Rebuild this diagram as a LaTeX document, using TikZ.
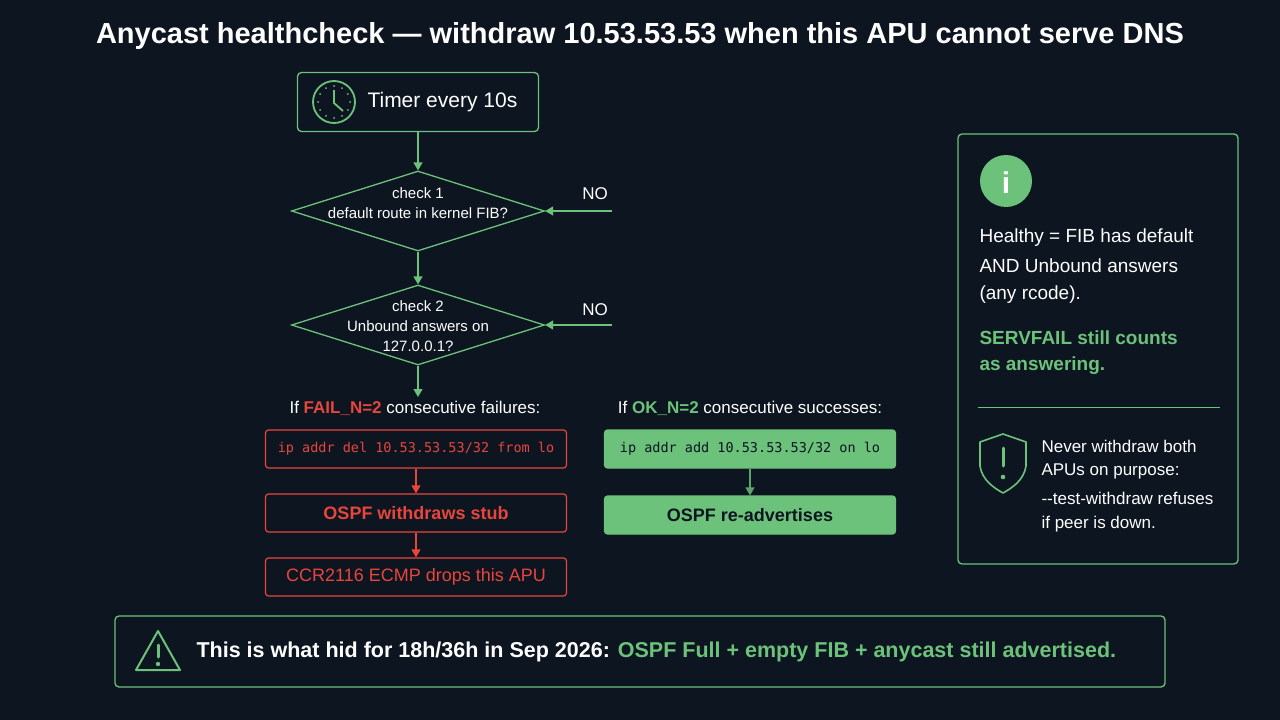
\documentclass[tikz,border=0pt]{standalone}
\usepackage{fontspec}
\setmainfont{Liberation Sans}
\setmonofont{DejaVu Sans Mono}
\usetikzlibrary{arrows.meta}
\usetikzlibrary{calc}
\usetikzlibrary{shapes.geometric}
\definecolor{bgc}{HTML}{0D1520}
\definecolor{grn}{HTML}{6CC27A}
\definecolor{red}{HTML}{E8453C}
\definecolor{ink}{HTML}{0D1520}
\tikzset{
  box/.style={draw=grn,line width=1.3pt,rounded corners=4pt,text=white},
  chk/.style={diamond,draw=grn,line width=1.3pt,aspect=3.15,minimum width=253pt,minimum height=80pt,inner sep=0pt},
  chktext/.style={text=white,align=center,font=\fontsize{15}{20}\selectfont},
  failbox/.style={draw=red,line width=1.2pt,rounded corners=3pt,minimum width=301pt,minimum height=38pt,text=red},
  okbox/.style={draw=grn,fill=grn,line width=1.2pt,rounded corners=3pt,minimum width=291pt,minimum height=38pt,text=ink},
  flow/.style={-{Triangle[length=8pt,width=9pt]},line width=1.3pt,draw=grn},
  txt/.style={text=white,anchor=west,font=\fontsize{19}{22}\selectfont}
}
\begin{document}
\begin{tikzpicture}[x=1pt,y=-1pt]
\fill[bgc] (0,0) rectangle (1280,720);
\useasboundingbox (0,0) rectangle (1280,720);
\node[text=white,font=\fontsize{29}{32}\selectfont\bfseries](title)at(640,36){Anycast healthcheck — withdraw 10.53.53.53 when this APU cannot serve DNS};
% flow chart
\node[box,minimum width=241pt,minimum height=59pt](timer)at(418,102){};
\node[text=white,font=\fontsize{21}{24}\selectfont,anchor=west](tlabel)at(364,102){Timer every 10s};
\draw[grn,line width=1.8pt](334,102)circle(21);
\draw[grn,line width=1.8pt](334,90)--(334,103)--(343,111);
\foreach \a in {0,30,...,330}{\fill[grn]($(334,102)+(\a:16)$)circle(1);}
\node[chk](c1)at(418,211){};
\node[chktext](c1t)at(418,203){check 1\\default route in kernel FIB?};
\node[chk](c2)at(418,325){};
\node[chktext](c2t)at(418,326){check 2\\Unbound answers on\\127.0.0.1?};
\coordinate(n1)at(612,211);
\coordinate(n2)at(612,325);
\coordinate(c2end)at(418,397);
\draw[flow](timer)--(c1);
\draw[flow](c1)--(c2);
\draw[flow](c2)--(c2end);
\draw[flow](n1)--(c1.east);
\draw[flow](n2)--(c2.east);
\node[text=white,font=\fontsize{17}{20}\selectfont](no1)at(595,194){NO};
\node[text=white,font=\fontsize{17}{20}\selectfont](no2)at(595,310){NO};
% fail branch
\node[text=white,font=\fontsize{17}{20}\selectfont](iffail)at(415,408){If \textcolor{red}{\bfseries FAIL\_N=2} consecutive failures:};
\node[failbox,font=\ttfamily\fontsize{13.5}{16}\selectfont](del)at(416,449){ip addr del 10.53.53.53/32 from lo};
\node[failbox,font=\fontsize{18}{21}\selectfont\bfseries](wd)at(416,513){OSPF withdraws stub};
\node[failbox,font=\fontsize{18}{21}\selectfont](ecmp)at(416,577){CCR2116 ECMP drops this APU};
\draw[flow,draw=red](del)--(wd);
\draw[flow,draw=red](wd)--(ecmp);
% ok branch
\node[text=white,font=\fontsize{17}{20}\selectfont](ifok)at(750,408){If \textcolor{grn}{\bfseries OK\_N=2} consecutive successes:};
\node[okbox,font=\ttfamily\fontsize{13.5}{16}\selectfont](add)at(750,449){ip addr add 10.53.53.53/32 on lo};
\node[okbox,font=\fontsize{18}{21}\selectfont\bfseries](readv)at(750,515){OSPF re-advertises};
\draw[flow,draw=grn!85!black](add)--(readv);
% side panel
\draw[box](958,134)rectangle(1238,564);
\fill[grn](1006,181)circle(26);
\node[text=white,font=\fontsize{30}{30}\selectfont\bfseries\rmfamily](info)at(1006,183){i};
\node[txt](h1)at(976,238){Healthy = FIB has default};
\node[txt](h2)at(976,266){AND Unbound answers};
\node[txt](h3)at(976,295){(any rcode).};
\node[txt,text=grn,font=\fontsize{19}{22}\selectfont\bfseries](s1)at(976,338){SERVFAIL still counts};
\node[txt,text=grn,font=\fontsize{19}{22}\selectfont\bfseries](s2)at(976,366){as answering.};
\draw[grn,line width=1pt](978,407)--(1220,407);
\draw[grn,line width=1.6pt,line join=round](1003,434)--(1026,442)--(1026,466)..controls(1024,480)and(1012,488)..(1003,493)..controls(994,488)and(982,480)..(980,466)--(980,442)--cycle;
\draw[grn,line width=3pt,line cap=round](1003,448)--(1003,466);
\fill[grn](1003,477)circle(2.3);
\node[txt,font=\fontsize{17}{20}\selectfont](w1)at(1038,446){Never withdraw both};
\node[txt,font=\fontsize{17}{20}\selectfont](w2)at(1038,471){APUs on purpose:};
\node[txt,font=\fontsize{17}{20}\selectfont](w3)at(1038,498){-{}-test-withdraw refuses};
\node[txt,font=\fontsize{17}{20}\selectfont](w4)at(1038,524){if peer is down.};
% bottom banner
\draw[box](115,616)rectangle(1165,687);
\draw[grn,line width=2pt,line join=round](158,631)--(180,670)--(136,670)--cycle;
\draw[grn,line width=3pt,line cap=round](158,645)--(158,657);
\fill[grn](158,664)circle(2.2);
\node[txt,font=\fontsize{21.5}{24}\selectfont\bfseries](note)at(193,652){This is what hid for 18h/36h in Sep 2026: \textcolor{grn}{OSPF Full + empty FIB + anycast still advertised.}};
\end{tikzpicture}
\end{document}
